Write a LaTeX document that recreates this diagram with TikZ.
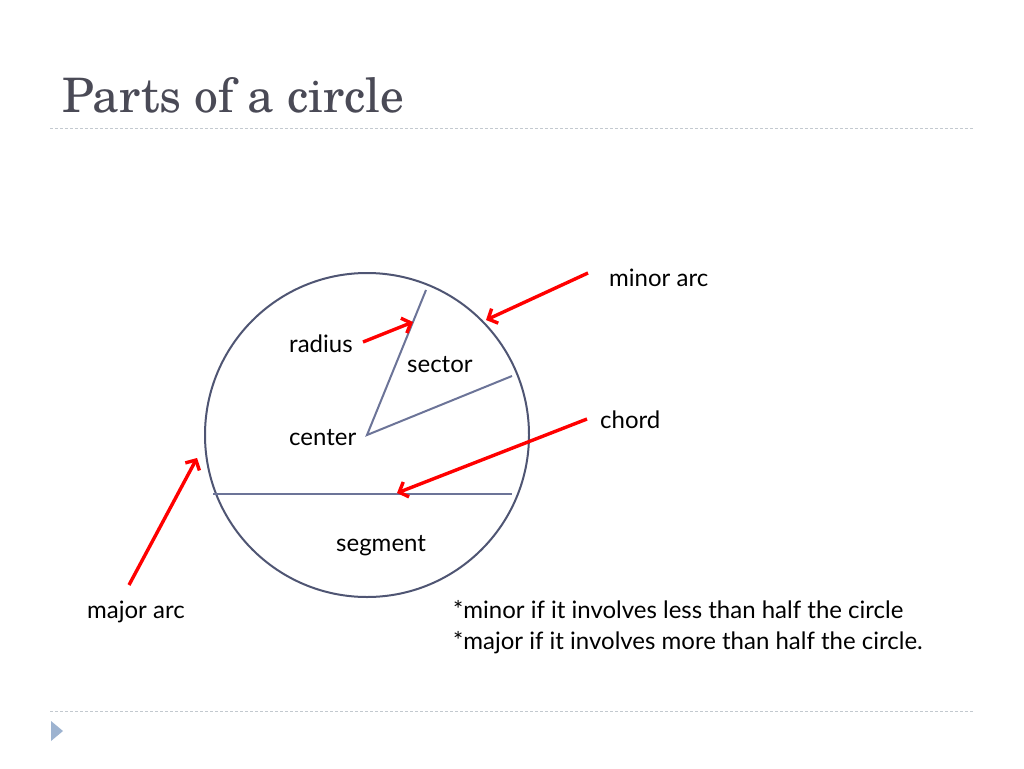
\documentclass[tikz,border=0pt]{standalone}
\usepackage{fontspec}
\setmainfont{Lato}
\newfontfamily\titlefont{texgyreschola-regular.otf}
\usetikzlibrary{arrows.meta}
\definecolor{titlegray}{HTML}{4A4A56}
\definecolor{circline}{HTML}{4F5573}
\definecolor{segline}{HTML}{6C7498}
\definecolor{dashgray}{HTML}{C3C9CF}
\definecolor{tri}{HTML}{9DB3D0}
\definecolor{arrowred}{HTML}{FF0000}
\tikzset{
  lbl/.style={anchor=base west, inner sep=0pt, font=\fontsize{24}{29}\selectfont, text=black},
  redarrow/.style={draw=arrowred, line width=3.4pt, -{Straight Barb[length=7.5pt,width=16pt]}},
  partline/.style={draw=segline, line width=2pt},
  sepline/.style={draw=dashgray, line width=1pt, dash pattern=on 3pt off 2pt}
}
\begin{document}
\begin{tikzpicture}[x=1pt,y=-1pt]
\useasboundingbox[fill=white] (0,0) rectangle (1024,768);
% title
\node[anchor=base west, inner sep=0pt, text=titlegray, font=\titlefont\fontsize{47.5}{54}\selectfont] (title) at (62,112) {Parts of a circle};
% separators
\coordinate (s1a) at (50,128); \coordinate (s1b) at (973,128);
\coordinate (s2a) at (50,711); \coordinate (s2b) at (973,711);
\draw[sepline] (s1a) -- (s1b);
\draw[sepline] (s2a) -- (s2b);
% bullet triangle
\coordinate (t1) at (51,721); \coordinate (t2) at (63,731); \coordinate (t3) at (51,741);
\fill[tri] (t1) -- (t2) -- (t3) -- cycle;
% circle
\coordinate (c) at (367,435);
\node[circle, draw=circline, line width=2pt, minimum size=324pt, inner sep=0pt] (circ) at (c) {};
% radius, sector, chord
\coordinate (r1) at (426,290);
\coordinate (r2) at (512,376);
\draw[partline] (r1) -- (c) -- (r2);
\coordinate (ch1) at (213,494);
\coordinate (ch2) at (512,494);
\draw[partline] (ch1) -- (ch2);
% labels
\node[lbl] (lminor) at (609,286) {minor arc};
\node[lbl] (lradius) at (289,352) {radius};
\node[lbl] (lsector) at (407,372) {sector};
\node[lbl] (lcenter) at (289,445) {center};
\node[lbl] (lchord) at (600,428) {chord};
\node[lbl] (lsegment) at (336,551) {segment};
\node[lbl] (lmajor) at (87,618) {major arc};
\node[lbl] (note1) at (453,618) {*minor if it involves less than half the circle};
\node[lbl] (note2) at (453,649) {*major if it involves more than half the circle.};
% red arrows
\coordinate (a1s) at (363,342); \coordinate (a1e) at (413,322);
\coordinate (a2s) at (588,273); \coordinate (a2e) at (486,320);
\coordinate (a3s) at (587,419); \coordinate (a3e) at (397,493);
\coordinate (a4s) at (129,585); \coordinate (a4e) at (197,458);
\draw[redarrow] (a1s) -- (a1e);
\draw[redarrow] (a2s) -- (a2e);
\draw[redarrow] (a3s) -- (a3e);
\draw[redarrow] (a4s) -- (a4e);
\end{tikzpicture}
\end{document}
